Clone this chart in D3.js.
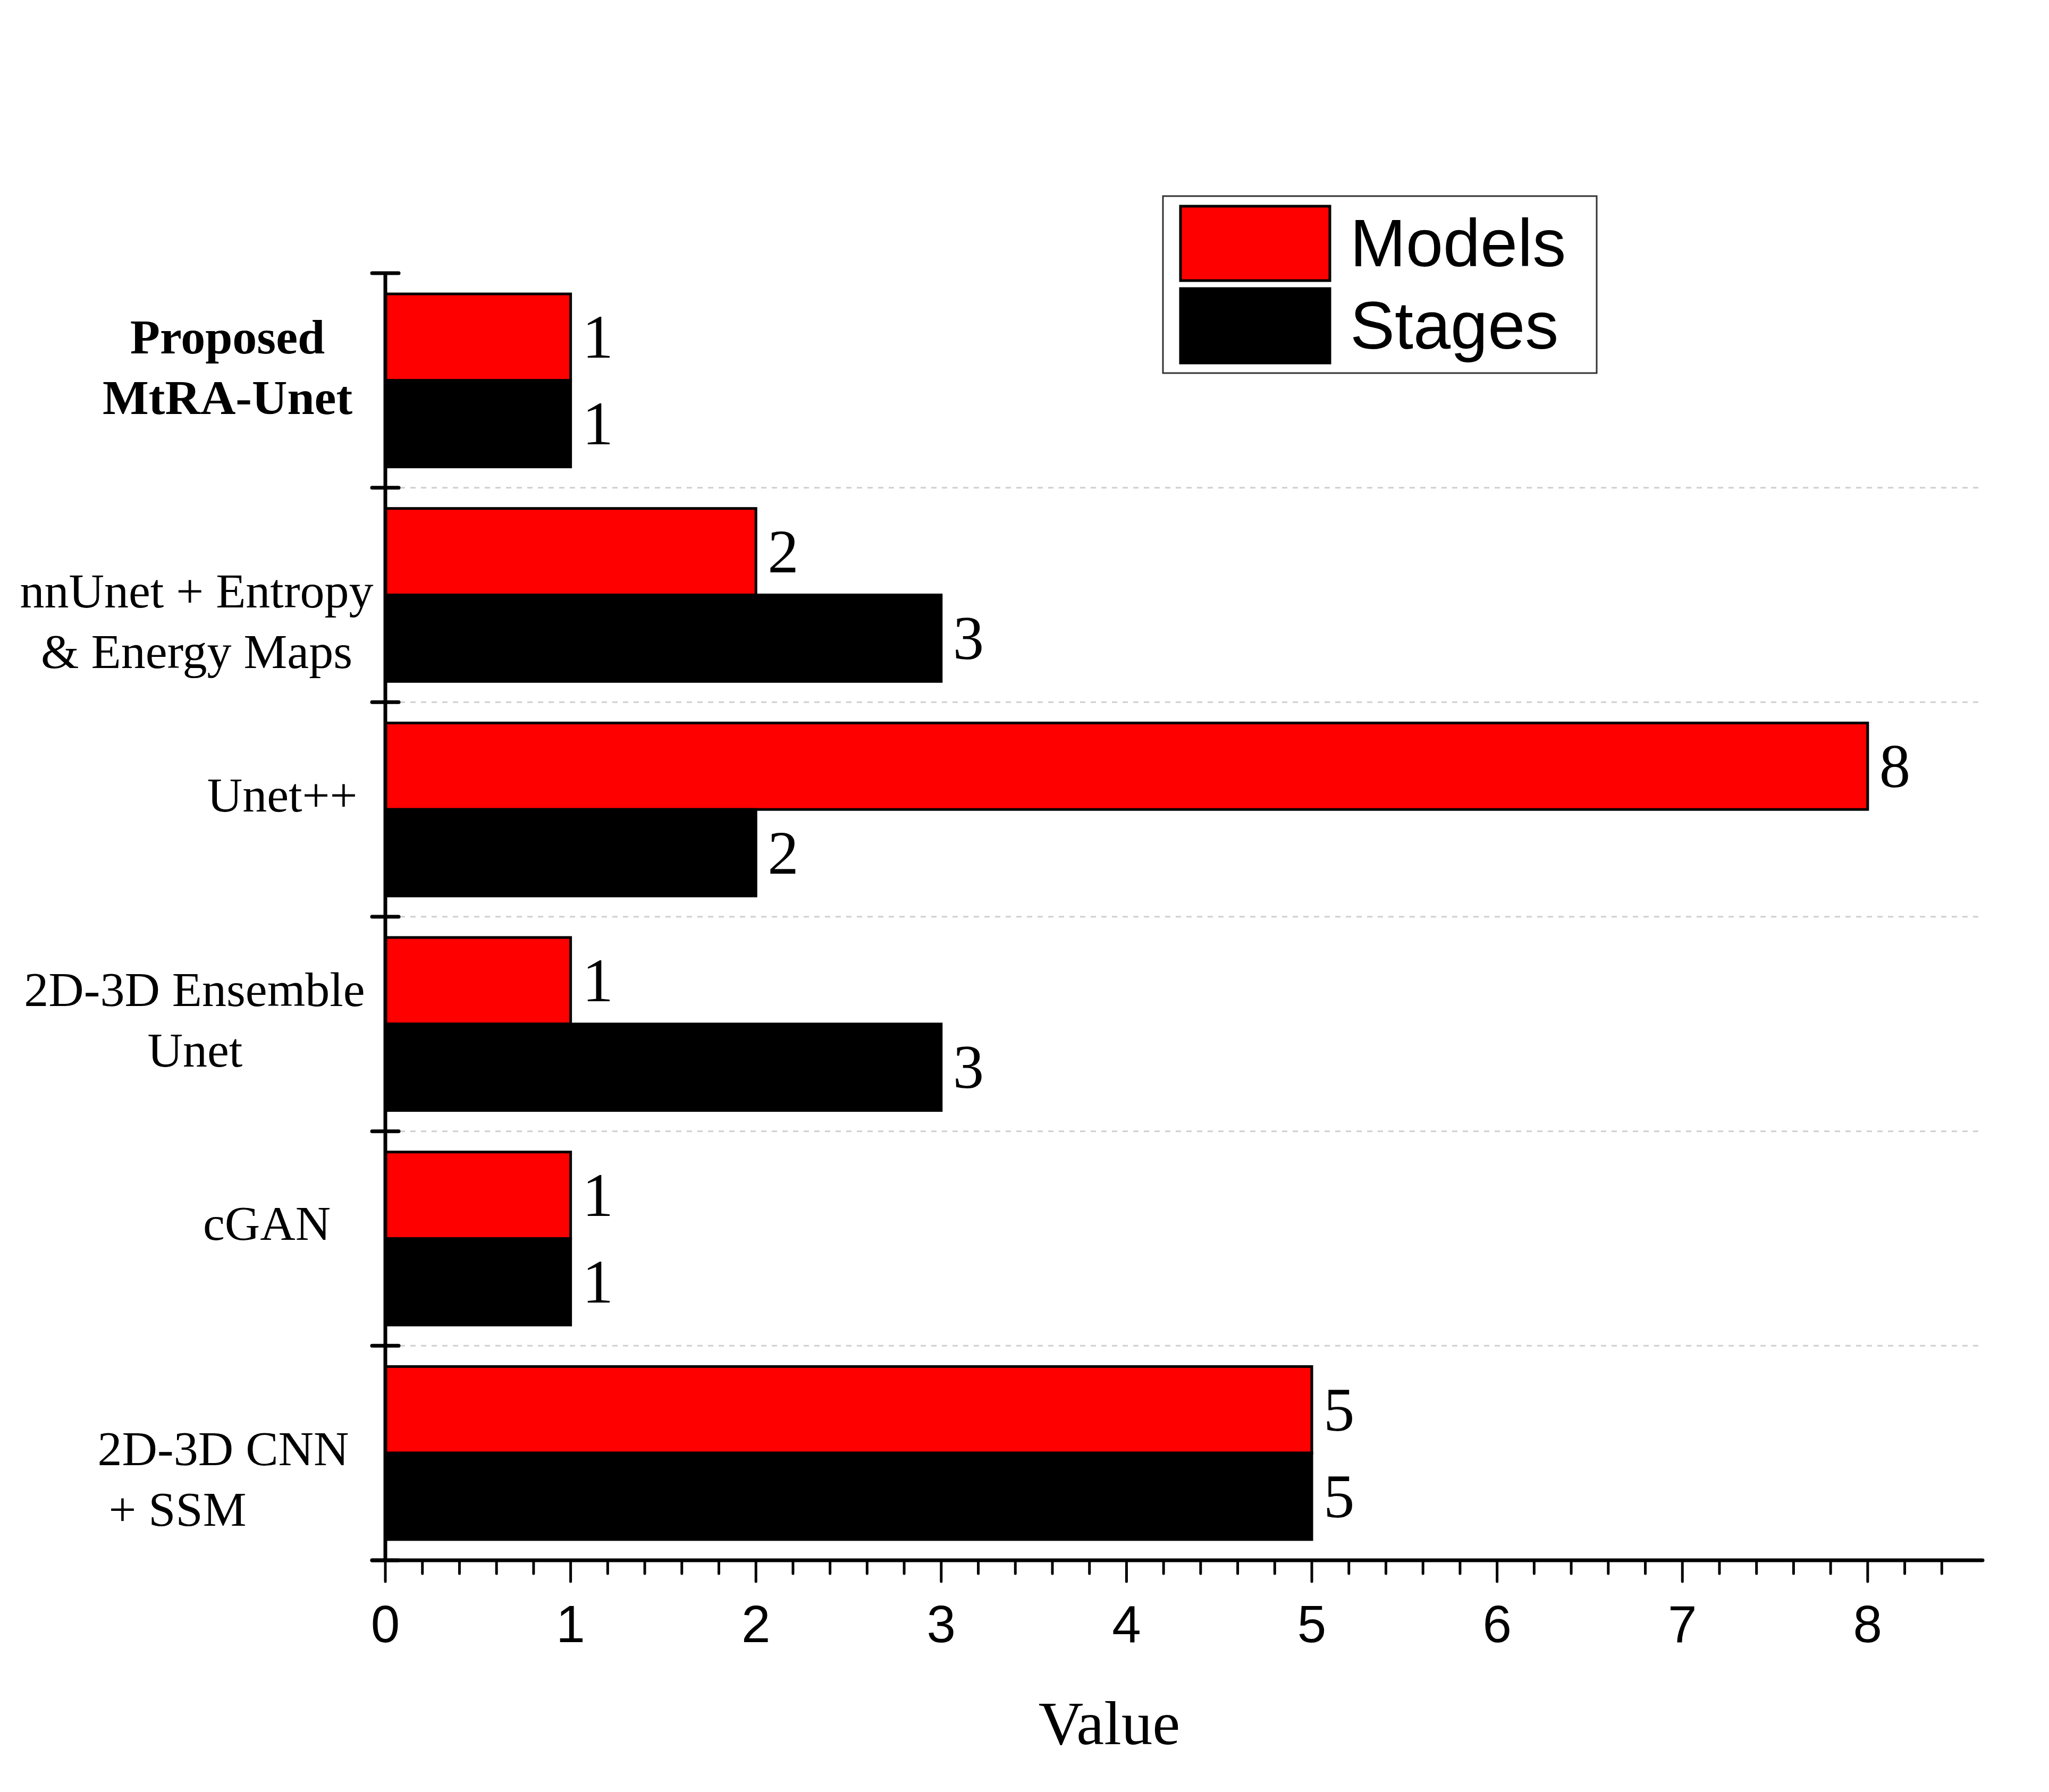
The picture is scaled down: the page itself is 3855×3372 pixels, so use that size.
<!DOCTYPE html>
<html><head><meta charset="utf-8">
<script src="https://cdn.jsdelivr.net/npm/d3@7"></script>
<style>body{margin:0;background:#fff}svg{display:block}</style>
</head><body>
<svg id="chart" width="3855" height="3372"></svg>
<script>
// ---- data ----
const categories = ["Proposed MtRA-Unet", "nnUnet + Entropy & Energy Maps", "Unet++", "2D-3D Ensemble Unet", "cGAN", "2D-3D CNN + SSM"];
const categoryLines = [["Proposed", "MtRA-Unet"], ["nnUnet + Entropy", "& Energy Maps"], ["Unet++"], ["2D-3D Ensemble", "Unet"], ["cGAN"], ["2D-3D CNN", "+ SSM"]];
const seriesNames = ["Models", "Stages"];
const modelsValues = [1, 2, 8, 1, 1, 5];
const stagesValues = [1, 3, 2, 3, 1, 5];
const xTickValues = [0, 1, 2, 3, 4, 5, 6, 7, 8];
const xAxisTitle = "Value";

// ---- layout (not data) ----
const labelLayout = [
  {x: [428, 428], dy: -51, bold: true},
  {x: [370, 370], dy: 23},
  {x: [531], dy: 4},
  {x: [366, 367], dy: -34},
  {x: [502], dy: 2},
  {x: [420, 334], dy: 23}
];
const seriesColors = {"Models": "#ff0000", "Stages": "#000000"};
const serif = "'Liberation Serif','Times New Roman',serif";
const sans = "'Liberation Sans',Arial,sans-serif";

const svg = d3.select("#chart");
svg.append("rect").attr("width", 3855).attr("height", 3372).attr("fill", "#fff");

const x = d3.scaleLinear().domain([0, 8.62]).range([725, 3730]);
const y = d3.scaleBand().domain(categories).range([514, 2936]).padding(0);
const ySub = d3.scaleBand().domain(seriesNames).range([0, y.bandwidth()]).paddingInner(0).paddingOuter(0.24);

const rows = categories.map((c, i) => ({cat: c, i, vals: [
  {s: "Models", v: modelsValues[i]},
  {s: "Stages", v: stagesValues[i]}
]}));

// gridlines at interior band boundaries
svg.append("g").selectAll("line").data(categories.slice(1)).join("line")
  .attr("x1", 752).attr("x2", x.range()[1])
  .attr("y1", d => y(d)).attr("y2", d => y(d))
  .attr("stroke", "#cfcfcf").attr("stroke-width", 3).attr("stroke-dasharray", "10,10");

// bars
const g = svg.append("g").selectAll("g").data(rows).join("g")
  .attr("transform", d => `translate(0,${y(d.cat)})`);
g.selectAll("rect").data(d => d.vals).join("rect")
  .attr("x", x(0))
  .attr("y", d => ySub(d.s))
  .attr("width", d => x(d.v) - x(0))
  .attr("height", ySub.bandwidth())
  .attr("fill", d => seriesColors[d.s])
  .attr("stroke", "#000").attr("stroke-width", 5);
g.selectAll("text").data(d => d.vals).join("text")
  .attr("x", d => x(d.v) + 22)
  .attr("y", d => ySub(d.s) + ySub.bandwidth() / 2 + 39)
  .attr("font-family", serif).attr("font-size", 117).attr("fill", "#000")
  .text(d => d.v);

// x axis
const xAxis = svg.append("g");
xAxis.append("line").attr("x1", 700).attr("x2", x.range()[1]).attr("y1", 2936).attr("y2", 2936)
  .attr("stroke", "#000").attr("stroke-width", 7).attr("stroke-linecap", "round");
const minorTicks = d3.range(0, 43).map(k => k * 0.2).filter(v => Math.abs(v - Math.round(v)) > 1e-6 && v <= 8.61);
xAxis.selectAll("line.minor").data(minorTicks).join("line").attr("class", "minor")
  .attr("x1", d => x(d)).attr("x2", d => x(d)).attr("y1", 2936).attr("y2", 2961)
  .attr("stroke", "#000").attr("stroke-width", 5).attr("stroke-linecap", "round");
xAxis.selectAll("line.major").data(xTickValues).join("line").attr("class", "major")
  .attr("x1", d => x(d)).attr("x2", d => x(d)).attr("y1", 2936).attr("y2", 2976)
  .attr("stroke", "#000").attr("stroke-width", 5).attr("stroke-linecap", "round");
xAxis.selectAll("text").data(xTickValues).join("text")
  .attr("x", d => x(d)).attr("y", 3090).attr("text-anchor", "middle")
  .attr("font-family", sans).attr("font-size", 98).attr("fill", "#000")
  .text(d => d);
svg.append("text").attr("x", 2087).attr("y", 3282).attr("text-anchor", "middle")
  .attr("font-family", serif).attr("font-size", 117).attr("fill", "#000").text(xAxisTitle);

// y axis
const yAxis = svg.append("g");
yAxis.append("line").attr("x1", 725).attr("x2", 725).attr("y1", 514).attr("y2", 2936)
  .attr("stroke", "#000").attr("stroke-width", 7);
const boundaries = categories.map(c => y(c)).concat([y.range()[1]]);
yAxis.selectAll("line.tk").data(boundaries).join("line").attr("class", "tk")
  .attr("x1", 700).attr("x2", 750).attr("y1", d => d).attr("y2", d => d)
  .attr("stroke", "#000").attr("stroke-width", 7).attr("stroke-linecap", "round");

// category labels
const lab = svg.append("g").selectAll("text").data(rows).join("text")
  .attr("font-family", serif).attr("font-size", 92).attr("fill", "#000")
  .attr("font-weight", d => labelLayout[d.i].bold ? "bold" : "normal")
  .attr("text-anchor", "middle");
lab.selectAll("tspan").data(d => categoryLines[d.i].map((t, j) => ({t, j, i: d.i}))).join("tspan")
  .attr("x", d => labelLayout[d.i].x[d.j])
  .attr("y", d => y(categories[d.i]) + y.bandwidth() / 2 + labelLayout[d.i].dy + d.j * 114)
  .text(d => d.t);

// legend
const lg = svg.append("g");
lg.append("rect").attr("x", 2188).attr("y", 369).attr("width", 816).attr("height", 333)
  .attr("fill", "#fff").attr("stroke", "#333").attr("stroke-width", 3);
const legendRows = seriesNames.map((s, k) => ({s, k}));
lg.selectAll("rect.sw").data(legendRows).join("rect").attr("class", "sw")
  .attr("x", 2221).attr("y", d => 388 + d.k * 155).attr("width", 281).attr("height", 140)
  .attr("fill", d => seriesColors[d.s]).attr("stroke", "#000").attr("stroke-width", 5);
lg.selectAll("text").data(legendRows).join("text")
  .attr("x", 2540).attr("y", d => 501 + d.k * 155)
  .attr("font-family", sans).attr("font-size", 126).attr("fill", "#000")
  .text(d => d.s);
</script>
</body></html>
